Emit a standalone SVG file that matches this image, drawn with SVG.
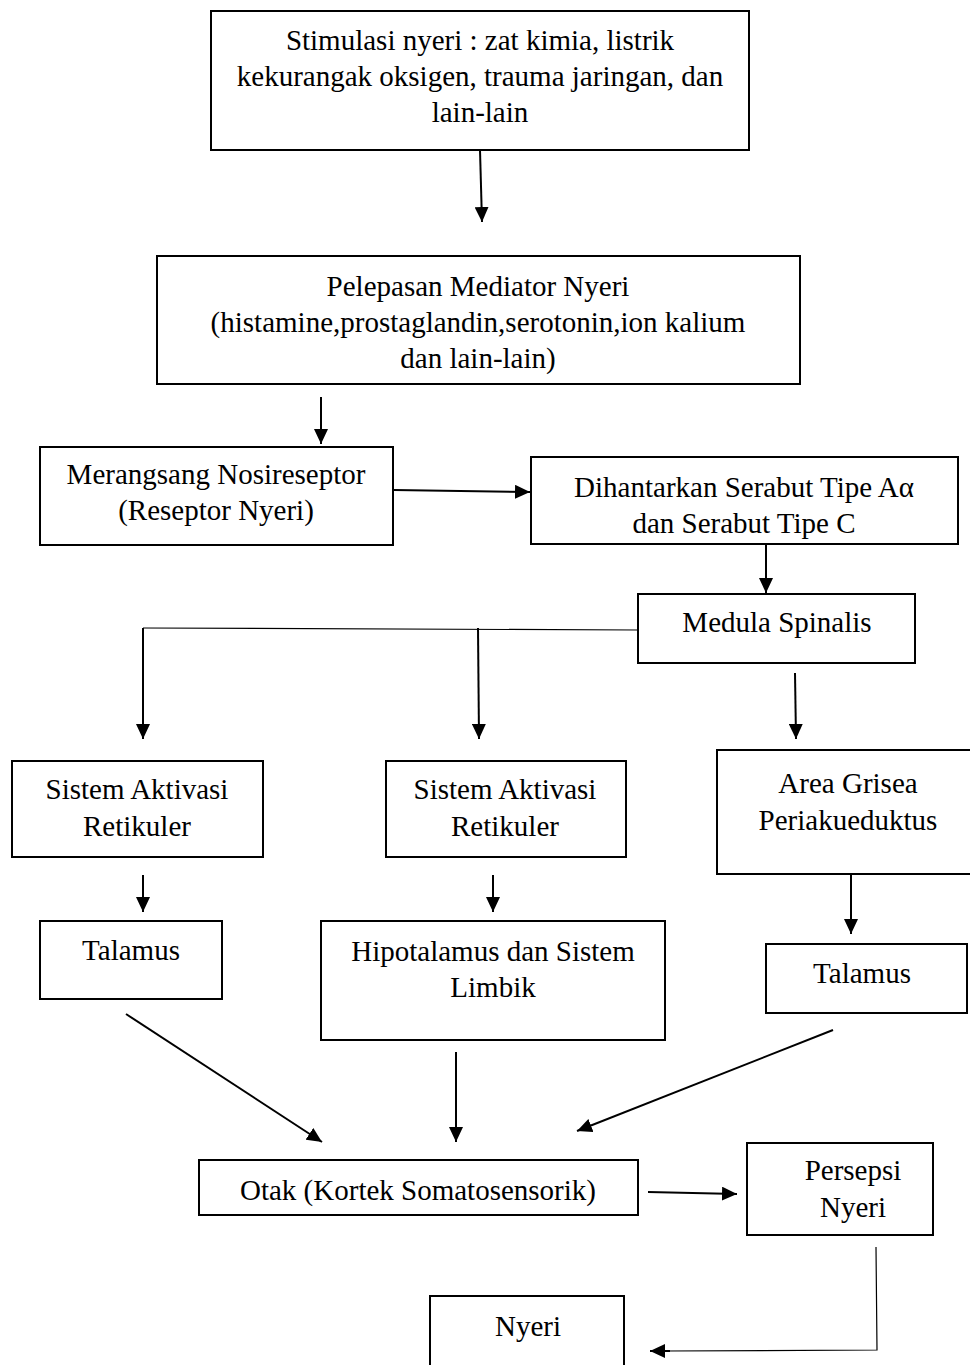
<svg xmlns="http://www.w3.org/2000/svg" width="970" height="1365" viewBox="0 0 970 1365">
<style>
.box{fill:#fff;stroke:#000;stroke-width:2}
.t{font-family:"Liberation Serif","Times New Roman",serif;font-size:29px;fill:#000;text-anchor:middle}
.c{fill:none;stroke:#000;stroke-width:2}
.thin{fill:none;stroke:#000;stroke-width:1.2}
</style>
<defs>
<marker id="ah" markerUnits="userSpaceOnUse" markerWidth="16" markerHeight="14" refX="15" refY="7" orient="auto">
<path d="M0,0 L15,7 L0,14 Z" fill="#000"/>
</marker>
</defs>
<g id="connectors">
<line class="c" x1="480" y1="150" x2="482" y2="222" marker-end="url(#ah)"/>
<line class="c" x1="321" y1="397" x2="321" y2="444" marker-end="url(#ah)"/>
<line class="c" x1="394" y1="490" x2="530" y2="492" marker-end="url(#ah)"/>
<line class="c" x1="766" y1="545" x2="766" y2="593" marker-end="url(#ah)"/>
<polyline class="thin" points="638,630 143,628"/>
<line class="c" x1="143" y1="628" x2="143" y2="739" marker-end="url(#ah)"/>
<line class="c" x1="478" y1="628" x2="479" y2="739" marker-end="url(#ah)"/>
<line class="c" x1="795" y1="673" x2="796" y2="739" marker-end="url(#ah)"/>
<line class="c" x1="143" y1="875" x2="143" y2="912" marker-end="url(#ah)"/>
<line class="c" x1="493" y1="875" x2="493" y2="912" marker-end="url(#ah)"/>
<line class="c" x1="851" y1="875" x2="851" y2="934" marker-end="url(#ah)"/>
<line class="c" x1="126" y1="1014" x2="322" y2="1142" marker-end="url(#ah)"/>
<line class="c" x1="456" y1="1052" x2="456" y2="1142" marker-end="url(#ah)"/>
<line class="c" x1="833" y1="1030" x2="577" y2="1131" marker-end="url(#ah)"/>
<line class="c" x1="648" y1="1192" x2="737" y2="1194" marker-end="url(#ah)"/>
<polyline class="thin" points="876,1247 877,1350 665,1351"/>
<line class="c" x1="670" y1="1351" x2="650" y2="1351" marker-end="url(#ah)"/>
</g>
<g id="n1"><rect class="box" x="211" y="11" width="538" height="139"/>
<text class="t" x="480" y="50">Stimulasi nyeri : zat kimia, listrik</text>
<text class="t" x="480" y="86">kekurangak oksigen, trauma jaringan, dan</text>
<text class="t" x="480" y="122">lain-lain</text></g>
<g id="n2"><rect class="box" x="157" y="256" width="643" height="128"/>
<text class="t" x="478" y="296">Pelepasan Mediator Nyeri</text>
<text class="t" x="478" y="332">(histamine,prostaglandin,serotonin,ion kalium</text>
<text class="t" x="478" y="368">dan lain-lain)</text></g>
<g id="n3"><rect class="box" x="40" y="447" width="353" height="98"/>
<text class="t" x="216" y="484">Merangsang Nosireseptor</text>
<text class="t" x="216" y="520">(Reseptor Nyeri)</text></g>
<g id="n4"><rect class="box" x="531" y="457" width="427" height="87"/>
<text class="t" x="744" y="497">Dihantarkan Serabut Tipe Aα</text>
<text class="t" x="744" y="533">dan Serabut Tipe C</text></g>
<g id="n5"><rect class="box" x="638" y="594" width="277" height="69"/>
<text class="t" x="777" y="632">Medula Spinalis</text></g>
<g id="n6"><rect class="box" x="12" y="761" width="251" height="96"/>
<text class="t" x="137" y="799">Sistem Aktivasi</text>
<text class="t" x="137" y="836">Retikuler</text></g>
<g id="n7"><rect class="box" x="386" y="761" width="240" height="96"/>
<text class="t" x="505" y="799">Sistem Aktivasi</text>
<text class="t" x="505" y="836">Retikuler</text></g>
<g id="n8"><rect class="box" x="717" y="750" width="260" height="124"/>
<text class="t" x="848" y="793">Area Grisea</text>
<text class="t" x="848" y="830">Periakueduktus</text></g>
<g id="n9"><rect class="box" x="40" y="921" width="182" height="78"/>
<text class="t" x="131" y="960">Talamus</text></g>
<g id="n10"><rect class="box" x="321" y="921" width="344" height="119"/>
<text class="t" x="493" y="961">Hipotalamus dan Sistem</text>
<text class="t" x="493" y="997">Limbik</text></g>
<g id="n11"><rect class="box" x="766" y="944" width="201" height="69"/>
<text class="t" x="862" y="983">Talamus</text></g>
<g id="n12"><rect class="box" x="199" y="1160" width="439" height="55"/>
<text class="t" x="418" y="1200">Otak (Kortek Somatosensorik)</text></g>
<g id="n13"><rect class="box" x="747" y="1143" width="186" height="92"/>
<text class="t" x="853" y="1180">Persepsi</text>
<text class="t" x="853" y="1217">Nyeri</text></g>
<g id="n14"><rect class="box" x="430" y="1296" width="194" height="80"/>
<text class="t" x="528" y="1336">Nyeri</text></g>
</svg>
